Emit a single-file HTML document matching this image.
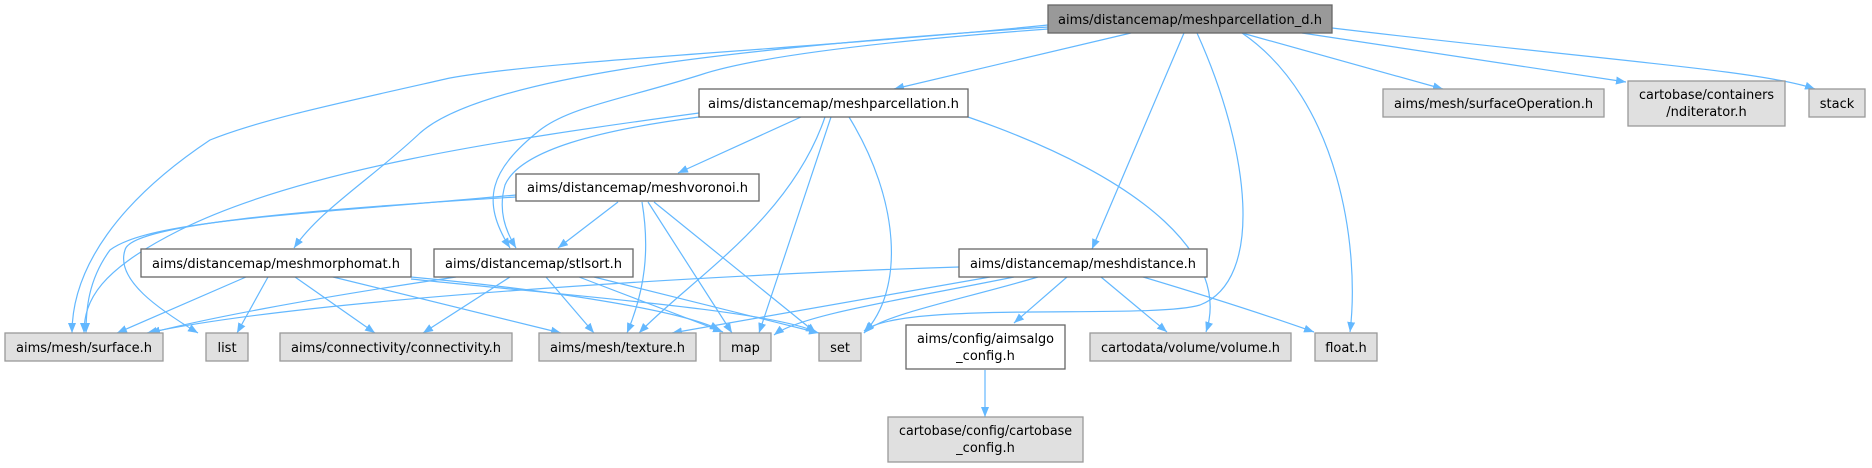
<!DOCTYPE html>
<html><head><meta charset="utf-8"><style>
html,body{margin:0;padding:0;background:#fff;}
svg{display:block;}
text{font-family:"DejaVu Sans","Liberation Sans",sans-serif;font-size:13px;fill:#000;text-anchor:middle;}
.e{fill:none;stroke:#63b8ff;stroke-width:1.2;marker-end:url(#a);}
.w{fill:#fff;stroke:#666;stroke-width:1.3;}
.g{fill:#e0e0e0;stroke:#999;stroke-width:1.3;}
.r{fill:#999;stroke:#666;stroke-width:1.3;}
</style></head><body>
<svg width="1872" height="468" viewBox="0 0 1872 468" xmlns="http://www.w3.org/2000/svg">
<defs><marker id="a" viewBox="0 0 10 8" refX="10" refY="4" markerWidth="10" markerHeight="8" markerUnits="userSpaceOnUse" orient="auto"><path d="M0,0 L10,4 L0,8 z" fill="#63b8ff"/></marker></defs>

<!-- root edges -->
<path class="e" d="M1131,33 L894,89"/>
<path class="e" d="M1184,33 L1092,249"/>
<path class="e" d="M1197,33 C1250,150 1265,280 1200,305 C1150,320 900,300 864,331"/>
<path class="e" d="M1242,33 C1340,100 1360,250 1350,332"/>
<path class="e" d="M1242,33 L1443,89"/>
<path class="e" d="M1302,33 L1626,82"/>
<path class="e" d="M1332,28 C1600,60 1760,70 1815,89"/>
<path class="e" d="M1048,25 C800,50 550,60 450,78 C330,105 260,120 210,140 C120,200 72,267 72,333"/>
<path class="e" d="M1048,27 C700,50 480,80 420,133 C370,180 320,210 294,248"/>
<path class="e" d="M1048,29 C900,40 760,55 700,75 C620,100 570,107 540,130 C490,170 480,200 510,248"/>

<!-- meshparcellation edges -->
<path class="e" d="M699,113 C500,140 300,170 180,230 C100,270 84,300 84,333"/>
<path class="e" d="M699,117 C600,130 520,150 505,185 C498,210 505,230 516,248"/>
<path class="e" d="M801,117 L678,173"/>
<path class="e" d="M825,117 C790,220 690,280 639,333"/>
<path class="e" d="M831,117 L759,333"/>
<path class="e" d="M849,117 C900,200 905,290 864,333"/>
<path class="e" d="M968,117 C1150,180 1230,260 1206,332"/>

<!-- meshvoronoi edges -->
<path class="e" d="M516,195 C300,215 150,220 110,250 C88,280 86,310 86,333"/>
<path class="e" d="M516,197 C300,210 130,225 125,250 C115,280 160,310 198,333"/>
<path class="e" d="M618,202 L558,248"/>
<path class="e" d="M642,202 C650,250 645,290 627,333"/>
<path class="e" d="M648,202 L732,333"/>
<path class="e" d="M654,202 L816,333"/>

<!-- meshmorphomat edges -->
<path class="e" d="M246,277 L117,333"/>
<path class="e" d="M268,277 L237,333"/>
<path class="e" d="M295,277 L375,333"/>
<path class="e" d="M333,277 L561,333"/>
<path class="e" d="M411,277 C550,290 680,310 720,330"/>
<path class="e" d="M411,279 C560,295 770,310 816,332"/>

<!-- stlsort edges -->
<path class="e" d="M456,277 C300,300 200,320 150,333"/>
<path class="e" d="M510,277 L423,333"/>
<path class="e" d="M546,277 L594,333"/>
<path class="e" d="M579,277 L723,332"/>
<path class="e" d="M594,277 L819,333"/>

<!-- meshdistance edges -->
<path class="e" d="M959,267 C700,275 300,300 147,333"/>
<path class="e" d="M990,277 L672,333"/>
<path class="e" d="M1014,277 C900,300 800,315 774,335"/>
<path class="e" d="M1038,277 C960,300 880,315 864,333"/>
<path class="e" d="M1067,277 L1014,323"/>
<path class="e" d="M1101,277 L1167,332"/>
<path class="e" d="M1143,277 C1220,300 1280,320 1314,332"/>
<path class="e" d="M985,370 L985,417"/>

<!-- nodes -->
<rect class="r" x="1048" y="5" width="284" height="28"/><text x="1190" y="24" textLength="264" lengthAdjust="spacingAndGlyphs">aims/distancemap/meshparcellation_d.h</text>
<rect class="w" x="699" y="89" width="269" height="28"/><text x="833.5" y="108" textLength="251" lengthAdjust="spacingAndGlyphs">aims/distancemap/meshparcellation.h</text>
<rect class="w" x="516" y="174" width="243" height="27"/><text x="637.5" y="192" textLength="221" lengthAdjust="spacingAndGlyphs">aims/distancemap/meshvoronoi.h</text>
<rect class="w" x="141" y="249" width="270" height="28"/><text x="276" y="268" textLength="248" lengthAdjust="spacingAndGlyphs">aims/distancemap/meshmorphomat.h</text>
<rect class="w" x="434" y="249" width="199" height="28"/><text x="533.5" y="268" textLength="177" lengthAdjust="spacingAndGlyphs">aims/distancemap/stlsort.h</text>
<rect class="w" x="959" y="249" width="248" height="28"/><text x="1083" y="268" textLength="226" lengthAdjust="spacingAndGlyphs">aims/distancemap/meshdistance.h</text>
<rect class="g" x="5" y="333" width="158" height="28"/><text x="84" y="352" textLength="136" lengthAdjust="spacingAndGlyphs">aims/mesh/surface.h</text>
<rect class="g" x="206" y="333" width="42" height="28"/><text x="227" y="352">list</text>
<rect class="g" x="280" y="333" width="232" height="28"/><text x="396" y="352" textLength="210" lengthAdjust="spacingAndGlyphs">aims/connectivity/connectivity.h</text>
<rect class="g" x="539" y="333" width="157" height="28"/><text x="617.5" y="352" textLength="135" lengthAdjust="spacingAndGlyphs">aims/mesh/texture.h</text>
<rect class="g" x="720" y="333" width="51" height="28"/><text x="745.5" y="352">map</text>
<rect class="g" x="819" y="333" width="42" height="28"/><text x="840" y="352">set</text>
<rect class="w" x="906" y="325" width="159" height="44"/><text x="985.5" y="343" textLength="137" lengthAdjust="spacingAndGlyphs">aims/config/aimsalgo</text><text x="985.5" y="360">_config.h</text>
<rect class="g" x="888" y="417" width="195" height="45"/><text x="985.5" y="435" textLength="173" lengthAdjust="spacingAndGlyphs">cartobase/config/cartobase</text><text x="985.5" y="452">_config.h</text>
<rect class="g" x="1090" y="333" width="201" height="28"/><text x="1190.5" y="352" textLength="179" lengthAdjust="spacingAndGlyphs">cartodata/volume/volume.h</text>
<rect class="g" x="1315" y="333" width="62" height="28"/><text x="1346" y="352">float.h</text>
<rect class="g" x="1383" y="89" width="221" height="28"/><text x="1493.5" y="108" textLength="199" lengthAdjust="spacingAndGlyphs">aims/mesh/surfaceOperation.h</text>
<rect class="g" x="1628" y="81" width="157" height="45"/><text x="1706.5" y="99" textLength="135" lengthAdjust="spacingAndGlyphs">cartobase/containers</text><text x="1706.5" y="116">/nditerator.h</text>
<rect class="g" x="1809" y="89" width="56" height="28"/><text x="1837" y="108">stack</text>
</svg>
</body></html>
